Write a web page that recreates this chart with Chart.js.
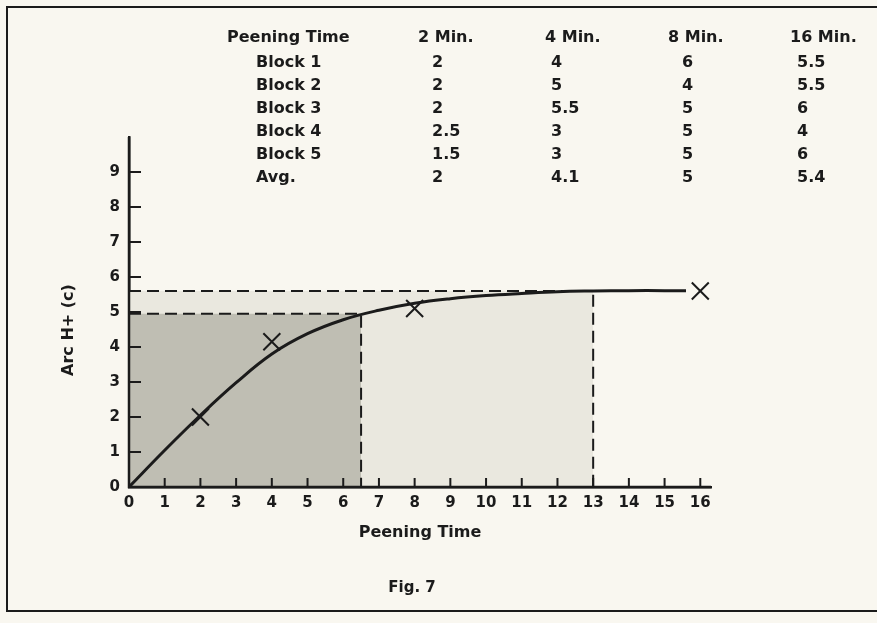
<!DOCTYPE html>
<html>
<head>
<meta charset="utf-8">
<title>Fig. 7</title>
<script src="https://cdn.jsdelivr.net/npm/chart.js@4.4.1/dist/chart.umd.min.js"></script>
<style>
  body { margin: 0; background: #f9f7f0; }
  #peeningChart { display: block; }
</style>
</head>
<body>
<canvas id="peeningChart" width="877" height="623"></canvas>
<script>
// table printed above the graph
const tableHeader = ['Peening Time', '2 Min.', '4 Min.', '8 Min.', '16 Min.'];
const blockNames = ['Block 1', 'Block 2', 'Block 3', 'Block 4', 'Block 5', 'Avg.'];
const arc2Min = ['2', '2', '2', '2.5', '1.5', '2'];
const arc4Min = ['4', '5', '5.5', '3', '3', '4.1'];
const arc8Min = ['6', '4', '5', '5', '5', '5'];
const arc16Min = ['5.5', '5.5', '6', '4', '6', '5.4'];

// axes
const xTicks = [0, 1, 2, 3, 4, 5, 6, 7, 8, 9, 10, 11, 12, 13, 14, 15, 16];
const yTicks = [0, 1, 2, 3, 4, 5, 6, 7, 8, 9];

// saturation curve
const curveX = [0, 1, 2, 3, 4, 5, 6, 7, 8, 9, 10, 11, 12, 13, 14, 15, 15.6];
const curveY = [0, 1.05, 2.05, 2.98, 3.8, 4.38, 4.78, 5.05, 5.25, 5.38, 5.47, 5.53, 5.58, 5.6, 5.61, 5.61, 5.61];

// plotted averages (X marks)
const markX = [2, 4, 8, 16];
const markY = [2.0, 4.15, 5.1, 5.6];

// dashed guides: [T, arc] pairs
const guideX = [6.5, 13];
const guideY = [4.95, 5.6];

const ink = '#1b1b1b';
const paper = '#f9f7f0';
const lightShade = '#eae8df';
const darkShade = '#bfbeb3';
const family = 'DejaVu Sans';

const toPoints = (xs, ys) => xs.map((x, i) => ({ x: x, y: ys[i] }));

const figureText = {
	id: 'figureText',
	beforeDraw(chart) {
		const ctx = chart.ctx;
		ctx.save();
		ctx.fillStyle = paper;
		ctx.fillRect(0, 0, chart.width, chart.height);
		ctx.restore();
	},
	afterDatasetsDraw(chart) {
		// axis lines on top of the shading, plus short ticks pointing inward
		const ctx = chart.ctx;
		const xs = chart.scales.x;
		const ys = chart.scales.y;
		ctx.save();
		ctx.strokeStyle = ink;
		ctx.lineWidth = 2.5;
		ctx.beginPath();
		ctx.moveTo(xs.left, ys.top);
		ctx.lineTo(xs.left, ys.bottom);
		ctx.lineTo(xs.right, ys.bottom);
		ctx.stroke();

		ctx.lineWidth = 2;
		ctx.beginPath();
		yTicks.slice(1).forEach((v) => {
			const py = ys.getPixelForValue(v);
			ctx.moveTo(xs.left, py);
			ctx.lineTo(xs.left + 12, py);
		});
		xTicks.slice(1).forEach((v) => {
			const px = xs.getPixelForValue(v);
			ctx.moveTo(px, ys.bottom);
			ctx.lineTo(px, ys.bottom - 9);
		});
		ctx.stroke();
		ctx.restore();
	},
	afterDraw(chart) {
		const ctx = chart.ctx;
		ctx.save();
		ctx.fillStyle = ink;
		ctx.textBaseline = 'middle';
		ctx.font = `bold 16px "${family}"`;

		// table
		const headX = [227, 418, 545, 668, 790];
		const colX = [432, 551, 682, 797];
		tableHeader.forEach((t, i) => ctx.fillText(t, headX[i], 38));
		const cols = [arc2Min, arc4Min, arc8Min, arc16Min];
		blockNames.forEach((name, r) => {
			const y = 63 + r * 23;
			ctx.fillText(name, 256, y);
			cols.forEach((col, c) => ctx.fillText(col[r], colX[c], y));
		});

		// y axis title
		ctx.save();
		ctx.translate(69, 330);
		ctx.rotate(-Math.PI / 2);
		ctx.textAlign = 'center';
		ctx.fillText('Arc H+ (c)', 0, 0);
		ctx.restore();

		// caption
		ctx.textAlign = 'center';
		ctx.font = `bold 15px "${family}"`;
		ctx.fillText('Fig. 7', 412, 588);

		// frame
		ctx.strokeStyle = ink;
		ctx.lineWidth = 2;
		ctx.beginPath();
		ctx.moveTo(chart.width + 2, 7);
		ctx.lineTo(7, 7);
		ctx.lineTo(7, 611);
		ctx.lineTo(chart.width + 2, 611);
		ctx.stroke();
		ctx.restore();
	},
};

const tickFont = { family: family, weight: 'bold', size: 15 };

const canvas = document.querySelector('#peeningChart');
const peeningChart = new Chart(canvas, {
	type: 'scatter',
	data: {
		datasets: [
			{
				label: 'Avg.',
				data: toPoints(markX, markY),
				pointStyle: 'crossRot',
				pointRadius: 12,
				pointBorderWidth: 2,
				borderColor: ink,
				backgroundColor: ink,
				showLine: false,
			},
			{
				label: 'Curve',
				data: toPoints(curveX, curveY),
				showLine: true,
				borderColor: ink,
				borderWidth: 3,
				tension: 0.4,
				pointRadius: 0,
				fill: false,
			},
			{
				label: 'Guide 5.6',
				data: [{ x: 0, y: guideY[1] }, { x: guideX[1], y: guideY[1] }, { x: guideX[1], y: 0 }],
				showLine: true,
				borderColor: ink,
				borderWidth: 2,
				borderDash: [12, 6],
				pointRadius: 0,
				fill: false,
			},
			{
				label: 'Guide 5',
				data: [{ x: 0, y: guideY[0] }, { x: guideX[0], y: guideY[0] }, { x: guideX[0], y: 0 }],
				showLine: true,
				borderColor: ink,
				borderWidth: 2,
				borderDash: [12, 6],
				pointRadius: 0,
				fill: false,
			},
			{
				label: 'Shade 5',
				data: [{ x: 0, y: guideY[0] }, { x: guideX[0], y: guideY[0] }],
				showLine: true,
				borderWidth: 0,
				pointRadius: 0,
				fill: 'origin',
				backgroundColor: darkShade,
			},
			{
				label: 'Shade 5.6',
				data: [{ x: 0, y: guideY[1] }, { x: guideX[1], y: guideY[1] }],
				showLine: true,
				borderWidth: 0,
				pointRadius: 0,
				fill: 'origin',
				backgroundColor: lightShade,
			},
		],
	},
	options: {
		responsive: false,
		animation: false,
		devicePixelRatio: 1,
		layout: { padding: { top: 137, right: 166, bottom: 76.4, left: 0 } },
		plugins: {
			legend: { display: false },
			tooltip: { enabled: false },
		},
		scales: {
			x: {
				type: 'linear',
				min: 0,
				max: 16.3,
				afterBuildTicks: (s) => { s.ticks = xTicks.map((v) => ({ value: v })); },
				afterFit: (s) => { s.height = 59.6; },
				grid: { display: false, drawTicks: false },
				border: { display: true, color: ink, width: 2.5 },
				ticks: { color: ink, font: tickFont, padding: 7, maxRotation: 0, autoSkip: false },
				title: {
					display: true,
					text: 'Peening Time',
					color: ink,
					font: { family: family, weight: 'bold', size: 16 },
					padding: { top: 4, bottom: 4 },
				},
			},
			y: {
				type: 'linear',
				min: 0,
				max: 10,
				afterBuildTicks: (s) => { s.ticks = yTicks.map((v) => ({ value: v })); },
				afterFit: (s) => { s.width = 129; },
				grid: { display: false, drawTicks: false },
				border: { display: true, color: ink, width: 2.5 },
				ticks: { color: ink, font: tickFont, padding: 9 },
			},
		},
	},
	plugins: [figureText],
});
</script>
</body>
</html>
